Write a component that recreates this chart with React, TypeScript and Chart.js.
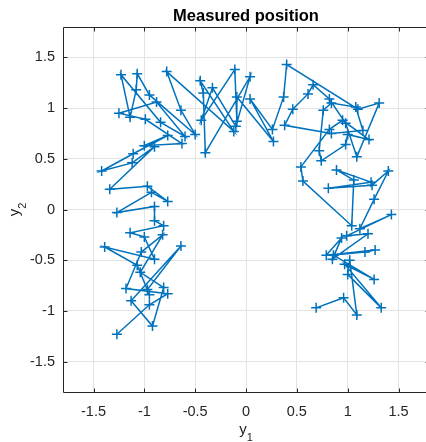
import React, { useEffect, useRef } from "react";
import { Chart, registerables } from "chart.js";

Chart.register(...registerables);

// Measured position samples (y1, y2), in time order
const Y1 = [
  -1.27, -0.95, -0.77, -1.18, -1.03, -0.82, -1.04, -0.81, -0.92, -1.13,
  -0.64, -0.97, -0.95, -1.07, -1.39, -0.90, -1.00, -1.14, -0.81, -0.90,
  -0.90, -1.27, -0.93, -0.77, -0.97, -1.34, -0.90, -1.12, -1.42, -1.11,
  -0.77, -1.00, -0.63, -0.99, -1.25, -0.88, -0.60, -0.84, -1.23, -1.14,
  -1.08, -1.07, -0.95, -0.50, -0.64, -0.78, -0.12, -0.45, -0.42, -0.40,
  0.04, -0.10, -0.33, -0.44, -0.11, -0.09, -0.09, 0.27, 0.04, 0.26,
  0.37, 0.40, 1.10, 1.31, 1.09, 0.98, 0.82, 0.66, 0.61, 0.46,
  0.38, 0.84, 1.15, 1.08, 0.84, 0.76, 0.72, 0.74, 0.98, 1.00,
  1.21, 0.95, 0.82, 0.54, 0.56, 1.04, 1.06, 0.89, 1.23, 0.81,
  1.24, 1.40, 1.26, 1.12, 1.43, 0.99, 1.20, 0.85, 0.94, 0.79,
  1.27, 1.17, 0.86, 1.26, 0.97, 1.33, 1.00, 1.02, 1.09, 0.96,
  0.69,
];
const Y2 = [
  -1.23, -0.94, -0.83, -0.78, -0.42, -0.25, -0.62, -0.77, -1.15, -0.90,
  -0.36, -0.79, -0.84, -0.55, -0.37, -0.49, -0.27, -0.23, -0.16, -0.11,
  0.03, -0.03, 0.17, 0.08, 0.23, 0.20, 0.62, 0.46, 0.38, 0.55,
  0.73, 0.63, 0.65, 0.89, 0.95, 1.06, 0.72, 0.86, 1.33, 0.91,
  1.18, 1.34, 1.13, 0.74, 0.98, 1.36, 0.77, 1.27, 1.15, 0.56,
  1.31, 0.82, 1.20, 0.88, 1.38, 0.87, 1.11, 0.67, 1.09, 0.79,
  1.11, 1.43, 0.99, 1.05, 0.52, 0.85, 1.09, 1.23, 1.14, 0.99,
  0.83, 0.75, 0.78, 1.01, 1.05, 0.98, 0.58, 0.48, 0.64, 0.74,
  0.69, 0.88, 0.79, 0.42, 0.28, -0.16, 0.29, 0.39, 0.27, 0.21,
  0.24, 0.38, 0.10, -0.19, -0.05, -0.26, -0.24, -0.49, -0.28, -0.45,
  -0.40, -0.42, -0.45, -0.69, -0.54, -0.97, -0.64, -0.50, -1.04, -0.87,
  -0.97,
];

const X_TICKS = [-1.5, -1, -0.5, 0, 0.5, 1, 1.5];
const Y_TICKS = [-1.5, -1, -0.5, 0, 0.5, 1, 1.5];
const AXIS_MIN = -1.8;
const AXIS_MAX = 1.8;
const TITLE = "Measured position";

const CANVAS_W = 440;
const CANVAS_H = 442;
const FONT = "'Liberation Sans', Arial, Helvetica, sans-serif";
const AXIS_COLOR = "#262626";
const LINE_COLOR = "#0072BD";

const decorPlugin = {
  id: "decor",
  afterDraw(chart: any) {
    const { ctx, chartArea } = chart;
    const { left, right, top, bottom } = chartArea;
    const xs = chart.scales.x;
    const ys = chart.scales.y;
    ctx.save();
    ctx.strokeStyle = AXIS_COLOR;
    ctx.lineWidth = 1;
    const L = Math.round(left) + 0.5;
    const R = Math.round(right) + 0.5;
    const T = Math.round(top) + 0.5;
    const B = Math.round(bottom) + 0.5;
    ctx.beginPath();
    ctx.rect(L, T, R - L, B - T);
    ctx.stroke();
    const tl = 4;
    ctx.beginPath();
    X_TICKS.forEach((v) => {
      const p = Math.round(xs.getPixelForValue(v)) + 0.5;
      ctx.moveTo(p, B);
      ctx.lineTo(p, B - tl);
      ctx.moveTo(p, T);
      ctx.lineTo(p, T + tl);
    });
    Y_TICKS.forEach((v) => {
      const p = Math.round(ys.getPixelForValue(v)) + 0.5;
      ctx.moveTo(L, p);
      ctx.lineTo(L + tl, p);
      ctx.moveTo(R, p);
      ctx.lineTo(R - tl, p);
    });
    ctx.stroke();

    // title
    ctx.fillStyle = "#000000";
    ctx.font = `bold 16.5px ${FONT}`;
    ctx.textAlign = "center";
    ctx.textBaseline = "alphabetic";
    const cx = (left + right) / 2;
    ctx.fillText(TITLE, cx, 21);

    // x label: y with subscript 1
    ctx.fillStyle = AXIS_COLOR;
    ctx.font = `15px ${FONT}`;
    ctx.textAlign = "left";
    const wy = ctx.measureText("y").width;
    ctx.font = `11px ${FONT}`;
    const w1 = ctx.measureText("1").width;
    const startX = cx - (wy + w1) / 2;
    ctx.font = `15px ${FONT}`;
    ctx.fillText("y", startX, 434);
    ctx.font = `11px ${FONT}`;
    ctx.fillText("1", startX + wy, 441);

    // y label rotated
    ctx.save();
    const cy = (top + bottom) / 2;
    ctx.translate(19, cy);
    ctx.rotate(-Math.PI / 2);
    ctx.font = `15px ${FONT}`;
    const wy2 = ctx.measureText("y").width;
    ctx.font = `11px ${FONT}`;
    const w2 = ctx.measureText("2").width;
    const sx = -(wy2 + w2) / 2;
    ctx.font = `15px ${FONT}`;
    ctx.fillText("y", sx, 0);
    ctx.font = `11px ${FONT}`;
    ctx.fillText("2", sx + wy2, 7);
    ctx.restore();

    ctx.restore();
  },
};

export default function App() {
  const ref = useRef<HTMLCanvasElement | null>(null);

  useEffect(() => {
    document.body.style.margin = "0";
    document.body.style.overflow = "hidden";
    const canvas = ref.current;
    if (!canvas) return;
    const points = Y1.map((v, i) => ({ x: v, y: Y2[i] }));
    const chart = new Chart(canvas, {
      type: "scatter",
      data: {
        datasets: [
          {
            data: points,
            showLine: true,
            borderColor: LINE_COLOR,
            backgroundColor: LINE_COLOR,
            borderWidth: 1.5,
            pointStyle: "cross",
            pointRadius: 5,
            pointBorderWidth: 1.5,
            pointBorderColor: LINE_COLOR,
            tension: 0,
          } as any,
        ],
      },
      plugins: [decorPlugin],
      options: {
        animation: false,
        responsive: false,
        devicePixelRatio: 1,
        layout: { padding: { left: 0, top: 27, right: CANVAS_W - 429, bottom: 0 } },
        plugins: {
          legend: { display: false },
          tooltip: { enabled: false },
          title: { display: false },
        },
        scales: {
          x: {
            type: "linear",
            min: AXIS_MIN,
            max: AXIS_MAX,
            afterBuildTicks: (s: any) => {
              s.ticks = X_TICKS.map((v) => ({ value: v }));
            },
            afterFit: (s: any) => {
              s.height = CANVAS_H - 392;
            },
            grid: { color: "#e3e3e3", lineWidth: 1, drawTicks: false },
            border: { display: false },
            ticks: {
              padding: 11,
              color: AXIS_COLOR,
              font: { family: FONT, size: 14.5 },
              callback: (v: any) => String(v),
              maxRotation: 0,
              autoSkip: false,
            },
          },
          y: {
            type: "linear",
            min: AXIS_MIN,
            max: AXIS_MAX,
            afterBuildTicks: (s: any) => {
              s.ticks = Y_TICKS.map((v) => ({ value: v }));
            },
            afterFit: (s: any) => {
              s.width = 63;
            },
            grid: { color: "#e3e3e3", lineWidth: 1, drawTicks: false },
            border: { display: false },
            ticks: {
              padding: 8,
              color: AXIS_COLOR,
              font: { family: FONT, size: 14.5 },
              callback: (v: any) => String(v),
              autoSkip: false,
            },
          },
        },
      } as any,
    });
    return () => chart.destroy();
  }, []);

  return (
    <div style={{ position: "fixed", left: 0, top: 0, width: CANVAS_W, height: CANVAS_H, background: "#fff" }}>
      <canvas ref={ref} width={CANVAS_W} height={CANVAS_H} style={{ display: "block", width: CANVAS_W, height: CANVAS_H }} />
    </div>
  );
}
